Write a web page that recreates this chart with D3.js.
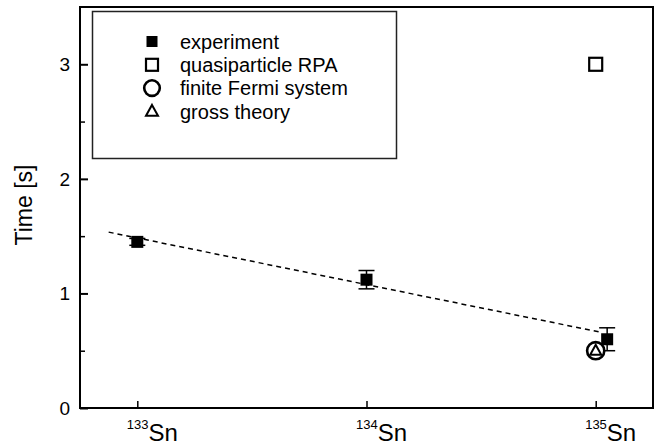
<!DOCTYPE html>
<html><head><meta charset="utf-8">
<script src="https://cdn.jsdelivr.net/npm/d3@7"></script>
<style>body{margin:0;background:#fff;} svg{display:block;} text{font-family:"Liberation Sans",Arial,sans-serif;fill:#000;}</style>
</head><body>
<svg id="chart" width="655" height="447"></svg>
<script>
// ---- data ----
const xTicks = [133, 134, 135];
const xTickSup = ["133", "134", "135"];
const xTickElem = ["Sn", "Sn", "Sn"];
const yTicks = [0, 1, 2, 3];
const yMinorTicks = [0.5, 1.5, 2.5];

const expX = [133, 134, 135.05];
const expY = [1.45, 1.12, 0.6];
const expErr = [0.03, 0.08, 0.1];

const rpaX = [135];
const rpaY = [3.0];

const ffsX = [135];
const ffsY = [0.5];

const grossX = [135];
const grossY = [0.5];

const fitX = [132.875, 135.025];
const fitY = [1.535, 0.66];

const legendLabels = ["experiment", "quasiparticle RPA", "finite Fermi system", "gross theory"];
const legendSymbols = ["filledSquare", "openSquare", "circle", "triangle"];

// ---- layout ----
const W = 655, H = 447;
const m = {left: 80, top: 7, right: 2, bottom: 39};
const svg = d3.select("#chart");
const x = d3.scaleLinear().domain([132.75, 135.25]).range([m.left, W - m.right]);
const y = d3.scaleLinear().domain([0, 3.5]).range([H - m.bottom, m.top]);

// frame
svg.append("rect").attr("x", x.range()[0]).attr("y", y.range()[1])
  .attr("width", x.range()[1] - x.range()[0]).attr("height", y.range()[0] - y.range()[1])
  .attr("fill", "none").attr("stroke", "#000").attr("stroke-width", 2);

// y axis ticks (inward)
const yAxis = d3.axisRight(y).tickValues(yTicks).tickSize(8).tickFormat("");
const gy = svg.append("g").attr("transform", `translate(${m.left},0)`).call(yAxis);
gy.select(".domain").remove();
gy.selectAll("line").attr("stroke-width", 2);
const yAxisMinor = d3.axisRight(y).tickValues(yMinorTicks).tickSize(5).tickFormat("");
const gym = svg.append("g").attr("transform", `translate(${m.left},0)`).call(yAxisMinor);
gym.select(".domain").remove();
gym.selectAll("line").attr("stroke-width", 1.5);
svg.selectAll(".ylab").data(yTicks).enter().append("text")
  .attr("x", 70).attr("y", d => y(d)).attr("dy", "0.36em")
  .attr("text-anchor", "end").attr("font-size", 19).text(d => d3.format("d")(d));

// x axis ticks (inward)
const xAxis = d3.axisTop(x).tickValues(xTicks).tickSize(7).tickFormat("");
const gx = svg.append("g").attr("transform", `translate(0,${H - m.bottom})`).call(xAxis);
gx.select(".domain").remove();
gx.selectAll("line").attr("stroke-width", 1.5);
const xl = svg.selectAll(".xlab").data(xTicks).enter().append("text")
  .attr("x", d => x(d) + 15).attr("y", 441).attr("text-anchor", "middle");
xl.append("tspan").attr("font-size", 13).attr("dy", "-12").text((d, i) => xTickSup[i]);
xl.append("tspan").attr("font-size", 24).attr("dy", "12").text((d, i) => xTickElem[i]);

// y label
svg.append("text").attr("transform", `translate(32,${205}) rotate(-90)`)
  .attr("text-anchor", "middle").attr("font-size", 23).text("Time [s]");

// fit line
svg.append("path").datum(fitX.map((v, i) => [v, fitY[i]]))
  .attr("d", d3.line().x(d => x(d[0])).y(d => y(d[1])))
  .attr("fill", "none").attr("stroke", "#000").attr("stroke-width", 1.5).attr("stroke-dasharray", "5,4");

// symbols
function drawSymbol(g, type, cx, cy, big) {
  if (type === "filledSquare") {
    const s = big ? 12 : 11;
    g.append("rect").attr("x", cx - s/2).attr("y", cy - s/2).attr("width", s).attr("height", s).attr("fill", "#000");
  } else if (type === "openSquare") {
    const s = big ? 13 : 12;
    g.append("rect").attr("x", cx - s/2).attr("y", cy - s/2).attr("width", s).attr("height", s)
      .attr("fill", "#fff").attr("stroke", "#000").attr("stroke-width", 2.2);
  } else if (type === "circle") {
    g.append("circle").attr("cx", cx).attr("cy", cy).attr("r", big ? 8.6 : 7.8)
      .attr("fill", "#fff").attr("stroke", "#000").attr("stroke-width", 2.6);
  } else if (type === "triangle") {
    const s = big ? 11 : 12;
    const h = s * 0.9;
    g.append("path").attr("d", `M${cx},${cy - h*0.6}L${cx + s/2},${cy + h*0.4}L${cx - s/2},${cy + h*0.4}Z`)
      .attr("fill", "none").attr("stroke", "#000").attr("stroke-width", 2);
  }
}

const marks = svg.append("g");
// error bars
expX.forEach((v, i) => {
  const cx = x(v), y0 = y(expY[i] - expErr[i]), y1 = y(expY[i] + expErr[i]);
  marks.append("line").attr("x1", cx).attr("x2", cx).attr("y1", y0).attr("y2", y1).attr("stroke", "#000").attr("stroke-width", 1.5);
  [y0, y1].forEach(yy => marks.append("line").attr("x1", cx - 8).attr("x2", cx + 8).attr("y1", yy).attr("y2", yy).attr("stroke", "#000").attr("stroke-width", 1.5));
});
ffsX.forEach((v, i) => drawSymbol(marks, "circle", x(v), y(ffsY[i]), true));
grossX.forEach((v, i) => drawSymbol(marks, "triangle", x(v), y(grossY[i]), true));
expX.forEach((v, i) => drawSymbol(marks, "filledSquare", x(v), y(expY[i]), true));
rpaX.forEach((v, i) => drawSymbol(marks, "openSquare", x(v), y(rpaY[i]), true));

// legend
const lg = svg.append("g");
lg.append("rect").attr("x", 92.5).attr("y", 11.5).attr("width", 304).attr("height", 147)
  .attr("fill", "#fff").attr("stroke", "#222").attr("stroke-width", 1.5);
legendLabels.forEach((lab, i) => {
  const cy = 41.5 + i * 23.3;
  drawSymbol(lg, legendSymbols[i], 152, cy, false);
  lg.append("text").attr("x", 180).attr("y", cy).attr("dy", "0.36em").attr("font-size", 20).text(lab);
});
</script>
</body></html>
